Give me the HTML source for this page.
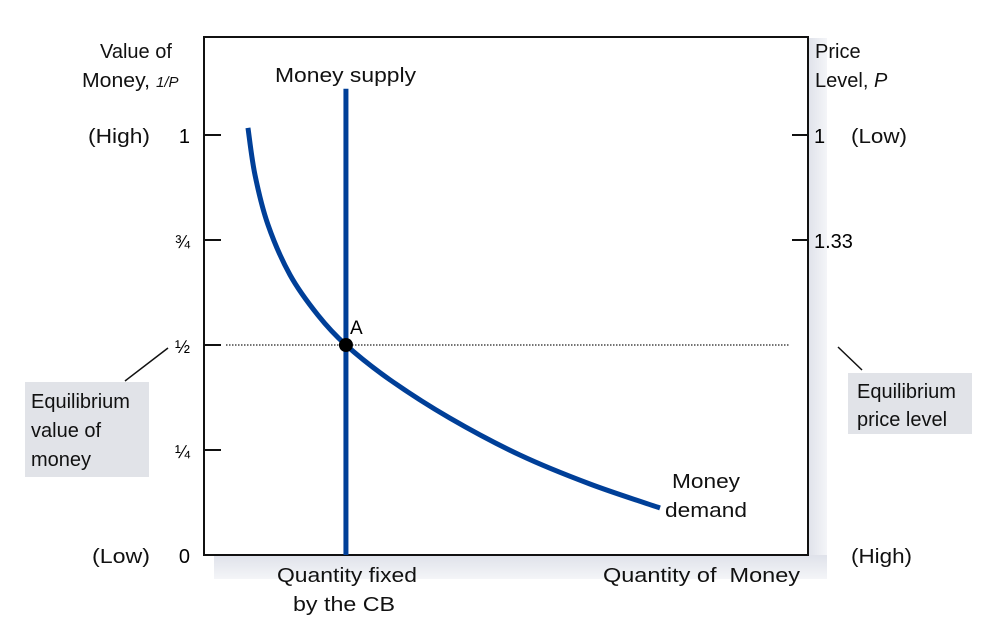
<!DOCTYPE html>
<html><head><meta charset="utf-8"><style>
html,body{margin:0;padding:0;background:#fff;}
svg{display:block;font-family:"Liberation Sans",sans-serif;}
</style></head><body>
<svg id="chart" width="995" height="620" viewBox="0 0 995 620">
<defs><linearGradient id="sh" x1="0" x2="1"><stop offset="0" stop-color="#dfe2ea"/><stop offset="1" stop-color="#f4f5f8"/></linearGradient>
<linearGradient id="shb" x1="0" y1="0" x2="0" y2="1"><stop offset="0" stop-color="#dfe2ea"/><stop offset="1" stop-color="#f4f5f8"/></linearGradient></defs>
<rect x="808" y="38" width="19" height="541" fill="url(#sh)"/>
<rect x="214" y="555" width="613" height="24" fill="url(#shb)"/>
<rect x="204" y="37" width="604" height="518" fill="#fff" stroke="#111" stroke-width="2"/>
<g id="ticks"></g>
<line id="eqline" stroke="#222" stroke-width="1.3" stroke-dasharray="1.5,1.5"/>
<path id="demand" fill="none" stroke="#003f98" stroke-width="5"/>
<line id="supply" stroke="#003f98" stroke-width="5"/>
<circle id="ptA" r="7" fill="#000"/>
<text x="350" y="334" font-size="19">A</text>
<g font-size="20" fill="#111">
<text x="100" y="58">Value of</text>
<text x="82" y="87"><tspan textLength="68" lengthAdjust="spacingAndGlyphs">Money,</tspan><tspan x="156" font-size="15" font-style="italic">1/P</tspan></text>
<text x="815" y="58">Price</text>
<text x="815" y="87">Level,  <tspan font-style="italic">P</tspan></text>
<text x="275" y="82" textLength="141" lengthAdjust="spacingAndGlyphs">Money supply</text>
<text x="672" y="488" textLength="68" lengthAdjust="spacingAndGlyphs">Money</text>
<text x="665" y="517" textLength="82" lengthAdjust="spacingAndGlyphs">demand</text>
<text x="88" y="143" textLength="62" lengthAdjust="spacingAndGlyphs">(High)</text>
<text x="92" y="563" textLength="58" lengthAdjust="spacingAndGlyphs">(Low)</text>
<text x="851" y="143" textLength="56" lengthAdjust="spacingAndGlyphs">(Low)</text>
<text x="851" y="563" textLength="61" lengthAdjust="spacingAndGlyphs">(High)</text>
<text x="277" y="582" textLength="140" lengthAdjust="spacingAndGlyphs">Quantity fixed</text>
<text x="293" y="611" textLength="102" lengthAdjust="spacingAndGlyphs">by the CB</text>
<text x="603" y="582" textLength="197" lengthAdjust="spacingAndGlyphs">Quantity of &#160;Money</text>
</g>
<rect x="25" y="382" width="124" height="95" fill="#e1e3e8"/>
<text font-size="20" fill="#111"><tspan x="31" y="408">Equilibrium</tspan><tspan x="31" y="437">value of</tspan><tspan x="31" y="466">money</tspan></text>
<line x1="125" y1="381" x2="168" y2="348" stroke="#111" stroke-width="1.5"/>
<rect x="848" y="373" width="124" height="61" fill="#e1e3e8"/>
<text font-size="20" fill="#111"><tspan x="857" y="398">Equilibrium</tspan><tspan x="857" y="426">price level</tspan></text>
<line x1="838" y1="347" x2="862" y2="370" stroke="#111" stroke-width="1.5"/>
</svg>
<script>
const yTickValues=[1,0.75,0.5,0.25,0];
const yTickLabels=["1","¾","½","¼","0"];
const rightTickValues=[1,0.75];
const rightTickLabels=["1","1.33"];
const demandQuantity=[7.28,8.44,10.6,14.24,18.87,23.5,30.8,40.7,52.3,63.9,75.5];
const demandValue=[1.017,0.905,0.786,0.667,0.571,0.5,0.417,0.326,0.238,0.169,0.112];
const supplyQuantity=23.5;
const equilibriumValue=0.5;
const supplyTop=1.11;

const X0=204,X1=808,Y0=555,YH=135;
const sx=q=>X0+q/100*(X1-X0);
const sy=v=>Y0-v*(Y0-YH);
const ns="http://www.w3.org/2000/svg";
const tg=document.getElementById('ticks');
yTickValues.forEach((v,i)=>{
  if(v>0){const l=document.createElementNS(ns,'line');
  l.setAttribute('x1',X0);l.setAttribute('x2',X0+17);l.setAttribute('y1',sy(v));l.setAttribute('y2',sy(v));
  l.setAttribute('stroke','#111');l.setAttribute('stroke-width','2');
  
  
  tg.appendChild(l);}
  const t=document.createElementNS(ns,'text');
  t.setAttribute('x',190);t.setAttribute('y',sy(v)+8);t.setAttribute('text-anchor','end');
  t.setAttribute('font-size',(i==0||i==4)?'20':'18');t.textContent=yTickLabels[i];
  
  
  tg.appendChild(t);
});
rightTickValues.forEach((v,i)=>{
  const l=document.createElementNS(ns,'line');
  l.setAttribute('x1',X1-16);l.setAttribute('x2',X1);l.setAttribute('y1',sy(v));l.setAttribute('y2',sy(v));
  l.setAttribute('stroke','#111');l.setAttribute('stroke-width','2');
  
  
  tg.appendChild(l);
  const t=document.createElementNS(ns,'text');
  t.setAttribute('x',814);t.setAttribute('y',sy(v)+8);t.setAttribute('font-size','20');t.textContent=rightTickLabels[i];
  
  
  tg.appendChild(t);
});
const pts=demandQuantity.map((q,i)=>[sx(q),sy(demandValue[i])]);
let d='M'+pts[0][0]+','+pts[0][1];
for(let i=0;i<pts.length-1;i++){
  const p0=pts[i-1]||pts[i],p1=pts[i],p2=pts[i+1],p3=pts[i+2]||p2;
  d+=' C'+(p1[0]+(p2[0]-p0[0])/6)+','+(p1[1]+(p2[1]-p0[1])/6)+' '+(p2[0]-(p3[0]-p1[0])/6)+','+(p2[1]-(p3[1]-p1[1])/6)+' '+p2[0]+','+p2[1];
}
document.getElementById('demand').setAttribute('d',d);
const s=document.getElementById('supply');
s.setAttribute('x1',sx(supplyQuantity));s.setAttribute('x2',sx(supplyQuantity));
s.setAttribute('y1',sy(supplyTop));s.setAttribute('y2',Y0);
const e=document.getElementById('eqline');
e.setAttribute('x1',226);e.setAttribute('x2',790);e.setAttribute('y1',sy(equilibriumValue));e.setAttribute('y2',sy(equilibriumValue));
const a=document.getElementById('ptA');
a.setAttribute('cx',sx(supplyQuantity));a.setAttribute('cy',sy(equilibriumValue));
</script>
</body></html>
